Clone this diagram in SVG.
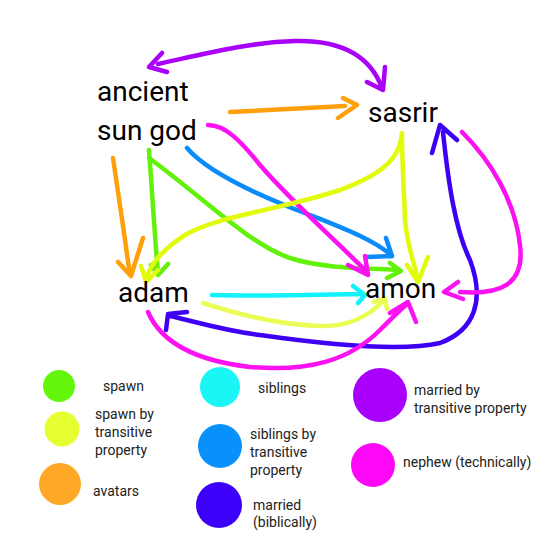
<svg xmlns="http://www.w3.org/2000/svg" width="540" height="540" viewBox="0 0 540 540">
<style>
.c{fill:none;stroke-width:4.5;stroke-linecap:round;stroke-linejoin:round}
.pu{stroke:#A800F8}.or{stroke:#FF9F0A}.gr{stroke:#62F20A}.ye{stroke:#E2FB0C}.yl{stroke:#EBFD55}
.cy{stroke:#12F2FA}.bl{stroke:#0A8CF8}.in{stroke:#3E00F5}.mg{stroke:#FA12F2}
.n{font-family:Roboto,"Liberation Sans",sans-serif;font-size:28px;fill:#000}
.l{font-family:Roboto,"Liberation Sans",sans-serif;font-size:14px;fill:#222}
</style>
<rect width="540" height="540" fill="#fff"/>
<g id="connectors">
<path class="c pu" d="M158,64 C200,55 250,42 295,41 C340,40 370,55 382,88 M162,53 L149,67 L167,72 M385,67 L383,90 L367,82"/>
<path class="c or" d="M230,112 C270,110 310,108 345,106 M343,98 L357,105 L338,118"/>
<path class="c or" d="M113,158 C118,190 125,240 130,275 M118,262 L131,276 L143,238"/>
<path class="c gr" d="M149,150 C152,190 155,240 158,273 M151,265 L158,275 L168,264"/>
<path class="c gr" d="M149,158 C200,195 250,245 290,258 C320,268 360,268 398,270 M390,263 L401,271 L387,278"/>
<path class="c bl" d="M187,148 C210,175 270,200 310,215 C340,227 375,240 392,256 M386,238 L392,256 L367,257"/>
<path class="c mg" d="M208,125 C225,125 240,140 260,165 C290,200 330,235 367,272 M348,265 L368,275 L365,256"/>
<path class="c ye" d="M402,133 C400,160 380,175 340,190 C280,210 220,215 185,235 C165,248 150,262 146,280 M141,266 L146,282 L158,270"/>
<path class="c ye" d="M402,135 C402,160 404,190 405,220 C408,250 415,265 418,280 M407,265 L418,282 L428,257"/>
<path class="c cy" d="M212,295 C260,296 320,295 363,294 M353,286 L365,295 L358,303"/>
<path class="c yl" d="M203,303 C240,315 280,325 320,326 C350,327 370,315 384,300 M374,302 L385,298 L387,309"/>
<path class="c in" d="M443,132 C448,180 455,230 470,260 C485,300 475,330 440,343 C400,352 330,345 260,335 C220,330 190,320 170,316 M432,153 L440,125 L457,140 M187,312 L168,314 L166,330"/>
<path class="c mg" d="M462,132 C490,160 515,200 520,245 C525,285 500,295 460,292 M458,282 L444,292 L463,299"/>
<path class="c mg" d="M148,312 C160,340 190,360 250,367 C310,372 350,360 380,330 C392,318 400,310 407,304 M390,313 L408,302 L416,322"/>
</g>
<g id="node-ancient-sun-god"><text class="n" x="97" y="101">ancient</text><text class="n" x="97" y="140">sun god</text></g>
<g id="node-sasrir"><text class="n" x="368" y="122">sasrir</text></g>
<g id="node-adam"><text class="n" x="118" y="302">adam</text></g>
<g id="node-amon"><text class="n" x="365" y="298">amon</text></g>
<g id="legend">
<g id="legend-spawn"><circle cx="59" cy="386" r="16" fill="#62F70A"/><text class="l" x="103" y="391">spawn</text></g>
<g id="legend-spawn-transitive"><circle cx="62" cy="429" r="17.5" fill="#E6FF33"/><text class="l" x="95" y="419">spawn by</text><text class="l" x="95" y="437">transitive</text><text class="l" x="95" y="455">property</text></g>
<g id="legend-avatars"><circle cx="60" cy="484" r="21" fill="#FFA726"/><text class="l" x="93" y="496">avatars</text></g>
<g id="legend-siblings"><circle cx="220" cy="387" r="20" fill="#1AF5F5"/><text class="l" x="258" y="393">siblings</text></g>
<g id="legend-siblings-transitive"><circle cx="220" cy="446" r="22" fill="#0891FA"/><text class="l" x="250" y="439">siblings by</text><text class="l" x="250" y="457">transitive</text><text class="l" x="250" y="475">property</text></g>
<g id="legend-married"><circle cx="219" cy="505" r="23" fill="#3D00F8"/><text class="l" x="253" y="510">married</text><text class="l" x="253" y="527">(biblically)</text></g>
<g id="legend-married-transitive"><circle cx="380" cy="395" r="27" fill="#A900FC"/><text class="l" x="414" y="395">married by</text><text class="l" x="414" y="413">transitive property</text></g>
<g id="legend-nephew"><circle cx="373" cy="465" r="22" fill="#FC08F6"/><text class="l" x="403" y="467">nephew (technically)</text></g>
</g>
</svg>
